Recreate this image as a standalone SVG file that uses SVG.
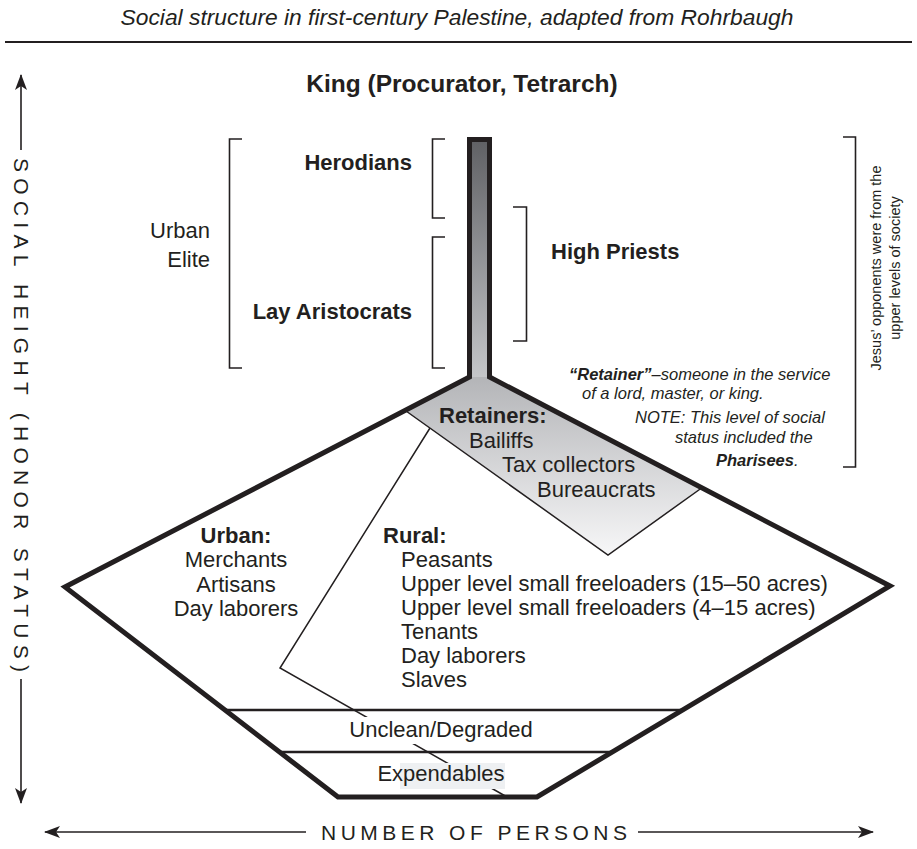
<svg xmlns="http://www.w3.org/2000/svg" width="917" height="849" viewBox="0 0 917 849">
  <style>
    text { font-family: "Liberation Sans", Arial, Helvetica, sans-serif; fill: #231f20; }
    .title { font-size: 22.8px; font-style: italic; }
    .king { font-size: 24.5px; font-weight: bold; }
    .head { font-size: 22px; font-weight: bold; }
    .lbl { font-size: 22px; }
    .lblb { font-size: 22px; font-weight: bold; }
    .note { font-size: 16.5px; font-style: italic; }
    .side { font-size: 14.5px; }
    .axis { font-size: 21px; }
    .thick { fill: none; stroke: #231f20; stroke-width: 5; stroke-linejoin: miter; }
    .thin { fill: none; stroke: #231f20; stroke-width: 1.5; }
    .band { fill: none; stroke: #231f20; stroke-width: 2.5; }
    .brk { fill: none; stroke: #231f20; stroke-width: 1.6; }
    .ax { fill: none; stroke: #231f20; stroke-width: 1.6; }
  </style>
  <defs>
    <linearGradient id="colGrad" gradientUnits="userSpaceOnUse" x1="0" y1="139" x2="0" y2="380">
      <stop offset="0" stop-color="#5f6064"/>
      <stop offset="1" stop-color="#c6c7ca"/>
    </linearGradient>
    <linearGradient id="retGrad" gradientUnits="userSpaceOnUse" x1="0" y1="378" x2="0" y2="556">
      <stop offset="0" stop-color="#b4b5b8"/>
      <stop offset="1" stop-color="#f7f7f8"/>
    </linearGradient>
    <marker id="arrow" viewBox="0 0 16 12" refX="15" refY="6" markerWidth="16" markerHeight="12" markerUnits="userSpaceOnUse" orient="auto-start-reverse">
      <path d="M0,0 L16,6 L0,12 L4,6 Z" fill="#231f20"/>
    </marker>
  </defs>

  <!-- heading -->
  <g id="title">
    <text class="title" x="457" y="25" text-anchor="middle">Social structure in first-century Palestine, adapted from Rohrbaugh</text>
    <line x1="5" y1="42" x2="912" y2="42" stroke="#231f20" stroke-width="2"/>
  </g>

  <!-- axes -->
  <g id="axes">
    <line class="ax" x1="21" y1="75" x2="21" y2="150" marker-start="url(#arrow)"/>
    <line class="ax" x1="21" y1="679" x2="21" y2="803" marker-end="url(#arrow)"/>
    <text class="axis" transform="translate(13.5,158) rotate(90)" textLength="514" lengthAdjust="spacing">SOCIAL HEIGHT (HONOR STATUS)</text>
    <line class="ax" x1="45" y1="832" x2="306" y2="832" marker-start="url(#arrow)"/>
    <line class="ax" x1="638" y1="832" x2="873" y2="832" marker-end="url(#arrow)"/>
    <text class="axis" x="321" y="840" textLength="306" lengthAdjust="spacing">NUMBER OF PERSONS</text>
  </g>

  <!-- pyramid body -->
  <g id="pyramid">
    <rect x="469.5" y="139.5" width="20" height="240" fill="url(#colGrad)"/>
    <polygon points="469.5,377 406,411 608,555 703,487 489.5,377" fill="url(#retGrad)"/>
    <polyline class="thin" points="406,411 608,555 703,487"/>
    <path class="thick" d="M469.5,377 L469.5,139.5 L489.5,139.5 L489.5,377 L890,586 L537,797 L338,797 L65,587 Z"/>
    <line class="band" x1="225" y1="710" x2="683" y2="710"/>
    <line class="band" x1="279" y1="752" x2="612" y2="752"/>
  </g>

  <!-- urban / rural divider -->
  <g id="connectors">
    <polyline class="thin" points="430,428 280,668 507,797"/>
  </g>

  <g id="king">
    <text class="king" x="462" y="92" text-anchor="middle">King (Procurator, Tetrarch)</text>
  </g>

  <g id="urban-elite">
    <polyline class="brk" points="242,139 229.5,139 229.5,368 242,368"/>
    <text class="lbl" x="210" y="238" text-anchor="end">Urban</text>
    <text class="lbl" x="210" y="267" text-anchor="end">Elite</text>
  </g>

  <g id="herodians">
    <polyline class="brk" points="445,139 432.5,139 432.5,218 445,218"/>
    <text class="head" x="412" y="170" text-anchor="end">Herodians</text>
  </g>

  <g id="lay-aristocrats">
    <polyline class="brk" points="445,237 432.5,237 432.5,368 445,368"/>
    <text class="head" x="412" y="319" text-anchor="end">Lay Aristocrats</text>
  </g>

  <g id="high-priests">
    <polyline class="brk" points="513,207 526.5,207 526.5,341 513,341"/>
    <text class="head" x="551" y="259">High Priests</text>
  </g>

  <g id="opponents">
    <polyline class="brk" points="843,137 855.5,137 855.5,467 843,467"/>
    <text class="side" transform="translate(881,268) rotate(-90)" text-anchor="middle">Jesus’ opponents were from the</text>
    <text class="side" transform="translate(900,268) rotate(-90)" text-anchor="middle">upper levels of society</text>
  </g>

  <g id="retainer-note">
    <text class="note" x="569" y="380"><tspan font-weight="bold">“Retainer”</tspan>–someone in the service</text>
    <text class="note" x="582" y="399">of a lord, master, or king.</text>
    <text class="note" x="635" y="423">NOTE: This level of social</text>
    <text class="note" x="675" y="443">status included the</text>
    <text class="note" x="716" y="466"><tspan font-weight="bold">Pharisees</tspan>.</text>
  </g>

  <g id="retainers">
    <text class="lblb" x="439" y="423">Retainers:</text>
    <text class="lbl" x="469" y="448">Bailiffs</text>
    <text class="lbl" x="502" y="472">Tax collectors</text>
    <text class="lbl" x="537" y="497">Bureaucrats</text>
  </g>

  <g id="urban">
    <text class="lblb" x="236" y="543" text-anchor="middle">Urban:</text>
    <text class="lbl" x="236" y="567" text-anchor="middle">Merchants</text>
    <text class="lbl" x="236" y="592" text-anchor="middle">Artisans</text>
    <text class="lbl" x="236" y="616" text-anchor="middle">Day laborers</text>
  </g>

  <g id="rural">
    <text class="lblb" x="383" y="543">Rural:</text>
    <text class="lbl" x="401" y="567">Peasants</text>
    <text class="lbl" x="401" y="591">Upper level small freeloaders (15–50 acres)</text>
    <text class="lbl" x="401" y="615">Upper level small freeloaders (4–15 acres)</text>
    <text class="lbl" x="401" y="639">Tenants</text>
    <text class="lbl" x="401" y="663">Day laborers</text>
    <text class="lbl" x="401" y="687">Slaves</text>
  </g>

  <g id="unclean">
    <rect x="345" y="717" width="195" height="27" fill="#ffffff"/>
    <text class="lbl" x="441" y="737" text-anchor="middle">Unclean/Degraded</text>
  </g>

  <g id="expendables">
    <rect x="375" y="763" width="25" height="26" fill="#ffffff"/>
    <rect x="400" y="763" width="105" height="26" fill="#eef0f2"/>
    <text class="lbl" x="441" y="781" text-anchor="middle">Expendables</text>
  </g>
</svg>
